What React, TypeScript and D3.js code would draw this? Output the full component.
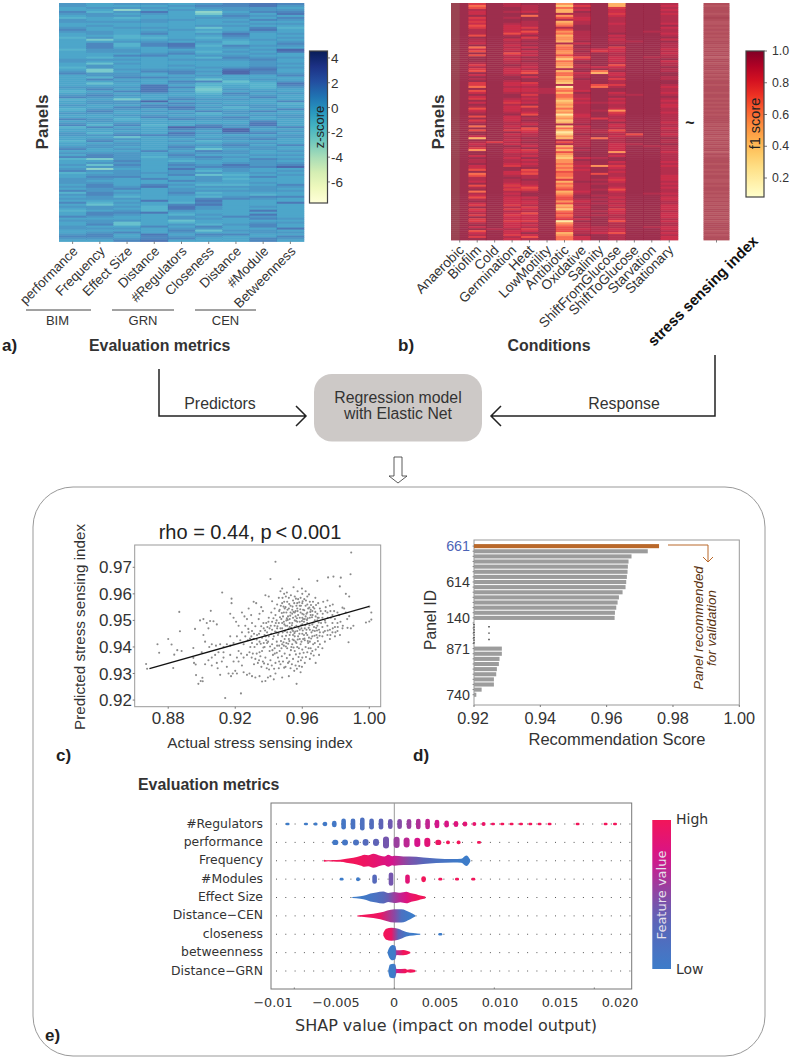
import React from "react";
import * as d3 from "d3";

// ---------- Panel a: z-score heatmap (one digit per row, 0 = palest, 9 = darkest) ----------
const metricLabels = ["performance", "Frequency", "Effect Size", "Distance", "#Regulators", "Closeness", "Distance", "#Module", "Betweenness"];
const zLevels = [-3.7, -2.8, -2.1, -1.5, -0.7, -0.1, 0.5, 1.15, 1.85, 2.6];
const metricRows = [
  "6655765466 5567655455 5554555566 5545675555 5565456745 5654565575 6745566554 5567565745 5656745566 6565746565 7565455756 5566556765",
  "5565466556 5655665625 7776655465 3662266475 3567567656 6556765566 5475546567 5665567725 6361656765 6776677665 4366577656 6756567765",
  "6561656456 5565554456 4456657565 6556566756 5565756526 6576556545 6756567365 6656566667 6765666755 5567565465 6565676556 3356575567",
  "6565865566 5565675456 7755567555 5556755755 5888865559 5775656755 5455557555 5555755455 5555565575 5785555558 5544485555 5575558778",
  "5656555565 5556555565 8875675565 5656775657 6575655675 7687565675 5597687656 5676567654 6768667557 5656676555 4788654663 4656765675",
  "6765125655 5635465456 5455456465 5565656537 4432345565 6565745665 5786565564 5653765765 5675463666 5465645478 7866556565 5476357655",
  "7766567656 5655687654 4765656765 5568995553 4556576565 5645665765 5669975665 6765665655 6876654545 5465655675 5555555755 5655657555",
  "8866756575 6578655565 5656565676 6678775565 4445656755 5665756557 8865675675 6566556576 6675565755 6566654765 5565858675 6775665577",
  "7656785765 6545565656 7659855655 6565567556 8765565557 4557556655 5575656655 5755656565 6795656555 5765655755 8555555565 6558565765",
];
const zTicks = [4, 2, 0, -2, -4, -6];
const metricGroups = ["BIM", "GRN", "CEN"];

// ---------- Panel b: f1 heatmap (one digit per row, 0 = palest, 9 = darkest) ----------
const conditionLabels = ["Anaerobic", "Biofilm", "Cold", "Germination", "Heat", "LowMotility", "Antibiotic", "Oxidative", "Salinity", "ShiftFromGlucose", "ShiftToGlucose", "Starvation", "Stationary"];
const f1Levels = [0.24, 0.38, 0.47, 0.56, 0.65, 0.74, 0.81, 0.87, 0.93, 0.985];
const conditionRows = [
  "9999999999 9999999999 9999999999 9999999999 9999999999 9999999999 9999999999 9999999999 9999999999 9999999999 9999999999 9999999999",
  "6458779676 7568885988 7947595999 8686597989 6649579769 7985789596 8949599729 8786399798 8977594588 7958948758 9769678696 6897957869",
  "9999999999 9999999999 9999999999 9999999999 9999999999 9999999999 9999999999 6999999999 9999999999 9999999999 9999999999 9999899999",
  "8899899899 8777758978 8787857878 8987778998 7787789987 6877789777 8878697887 8798778878 8769977898 8767687877 7768687677 6777877687",
  "9888794998 8868579689 8979787989 8878659799 6787786878 7958875989 8795678898 9879678797 8789565889 8875689978 7786785777 6878679758",
  "9999999999 9999999999 9999999999 9999999999 9998889999 9999999999 9999999999 9999999999 9999999999 9999999999 9999999999 9999999999",
  "3142283582 3485342332 8344335314 3328244232 1803424431 2324230231 2814201328 5824253213 3434354436 2434523455 3523145456 0345552344",
  "8687988778 8999888889 7998988579 9889978898 8888798878 7888887788 8978889888 8889899979 8878788888 9888878998 7887888897 9888788977",
  "9999999999 9999999999 9997699999 9979429999 9549999999 8999899969 9999889949 9999999989 9939995998 9899899898 9899989899 9998887999",
  "2267767888 7888897878 8967788777 8578977868 8689978978 7887367887 9778578788 8777738799 7867878876 7887578878 7878677887 5888775888",
  "9999999999 9999999998 9999999999 9999999999 9999998999 9999999999 9999995899 9899999999 9999999999 9999999999 9999999999 9999999999",
  "9999999999 9999899999 9999999899 9999999999 9999999999 9999999999 9999999999 9989999999 9999999999 9999998999 9999999999 9998999999",
  "8787878888 7978878979 8887878897 8898899889 9878878987 8778878888 7887887898 8988878888 7878888777 8787887877 8877787778 7887787877",
];
const stressRows = "5655565456 6565656565 5656565755 6555656565 5655565565 6565656555 5656565665 6565575655 5655656556 6565565656 5656556565 6555565655";
const f1Ticks = [1.0, 0.8, 0.6, 0.4, 0.2];

// ---------- Panel c: scatter, [actual, predicted] in ten-thousandths ----------
const regressionLine = [[0.8688, 0.9318], [1.0, 0.9553]];
const scatterXTicks = [0.88, 0.92, 0.96, 1.0];
const scatterYTicks = [0.97, 0.96, 0.95, 0.94, 0.93, 0.92];
const scatterPoints = [
  [9892,9756],[9440,9721],[9888,9674],[9410,9656],[9580,9655],[9690,9649],[9754,9662],[9786,9665],[9830,9661],[9824,9628],[9860,9600],[9880,9590],[9122,9605],[9178,9582],[9178,9565],[8866,9532],[9054,9536],
  [8800,9430],[8736,9410],[8746,9378],[8668,9336],[8674,9318],[8830,9321],[8836,9371],[8854,9388],[8880,9385],[8870,9459],[8820,9409],[8950,9396],[8950,9359],[8954,9340],[8964,9334],[8966,9294],[8980,9261],[9004,9284],[9006,9271],[8994,9272],[9140,9208],[9234,9225],[9566,9261],[9520,9290],[9430,9278],
  [10000,9496],[10012,9530],[10012,9503],[9980,9492],[10000,9552],[9876,9418],[9890,9470],[9870,9472],[9905,9480],[9880,9516],[9868,9505],[9860,9530],[9850,9545],[9840,9548],[9820,9520],[9810,9490],
  [8960,9468],[8990,9500],[9010,9505],[9030,9490],[9050,9498],[9070,9497],[9090,9485],[9040,9470],[9010,9445],[9020,9420],[9045,9400],[9060,9410],[9085,9405],[9110,9410],[9130,9400],[9150,9410],[9170,9405],[9100,9380],[9080,9370],[9060,9360],[9040,9350],[9020,9335],[9000,9380],[9060,9330],[9095,9320],[9120,9345],[9130,9360],[9150,9325],[9160,9300],[9175,9290],[9185,9300],[9200,9310],[9210,9300],[9110,9295],[9090,9340],[9130,9380],[9170,9370],[9190,9345],[9210,9360],[9220,9385],[9240,9330],[9250,9305],[9270,9295],[9285,9300],[9300,9290],[9320,9285],[9345,9290],[9360,9270],[9380,9272],[9395,9285],[9410,9290],[9440,9300],[9460,9320],[9480,9285],
  [9170,9525],[9190,9510],[9205,9495],[9220,9480],[9240,9530],[9255,9515],[9270,9505],[9280,9545],[9260,9480],[9295,9520],[9300,9490],[9310,9570],[9325,9565],[9345,9525],[9355,9550],[9365,9535],[9380,9595],[9400,9590],[9420,9572],[9415,9530],[9340,9505],[9320,9478],[9300,9460],[9280,9455],[9260,9440],[9240,9455],[9210,9440],[9190,9415],[9170,9440],[9230,9425],[9250,9410],[9275,9425],[9290,9400],[9310,9430],[9330,9445],[9350,9460],[9370,9470],[9385,9490],[9400,9510],[9420,9495],[9440,9520],[9435,9545],[9450,9560],[9460,9585],[9470,9610],[9480,9620],[9465,9540],[9480,9565],[9490,9530],[9500,9550],[9510,9570],[9520,9585],[9530,9555],[9545,9575],[9555,9590],[9565,9555],[9575,9580],[9590,9585],[9600,9600],[9612,9580],[9630,9590],[9645,9570],[9620,9555],[9605,9540],[9590,9530],[9575,9520],[9560,9535],[9545,9510],[9530,9530],[9515,9515],[9505,9500],[9490,9495],[9475,9505],[9460,9490],[9450,9470],[9435,9480],[9420,9465],[9405,9470],[9390,9455],[9375,9445],[9360,9435],[9345,9420],[9330,9410],[9315,9400],[9300,9415],[9285,9380],[9270,9370],[9250,9360],[9235,9375],[9220,9345],[9305,9375],[9320,9355],[9335,9340],[9350,9365],[9365,9345],[9380,9360],[9395,9335],[9410,9350],[9425,9370],[9440,9340],[9455,9360],[9470,9335],[9485,9345],[9500,9325],[9515,9340],[9530,9320],[9545,9355],[9560,9330],[9575,9345],[9590,9305],[9600,9360],[9615,9340],[9630,9380],[9645,9355],[9660,9385],[9680,9340],[9700,9370],[9720,9395],[9600,9390],[9585,9375],[9570,9400],[9555,9385],[9540,9410],[9525,9370],[9510,9395],[9495,9375],[9480,9410],[9465,9385],[9450,9405],[9435,9395],[9420,9410],[9405,9385],[9390,9415],[9375,9400],[9360,9385],[9345,9380],
  [9480,9440],[9495,9430],[9510,9455],[9525,9445],[9540,9465],[9555,9440],[9570,9460],[9585,9430],[9600,9450],[9615,9425],[9630,9445],[9645,9420],[9660,9440],[9675,9415],[9690,9435],[9705,9410],[9720,9440],[9735,9420],[9750,9445],[9765,9430],[9780,9455],[9795,9440],[9810,9460],[9825,9445],[9840,9470],[9480,9470],[9495,9460],[9510,9480],[9525,9475],[9540,9490],[9555,9475],[9570,9495],[9585,9465],[9600,9485],[9615,9470],[9630,9490],[9645,9465],[9660,9485],[9675,9460],[9690,9480],[9705,9455],[9720,9475],[9735,9460],[9750,9480],[9765,9465],[9780,9490],[9795,9475],[9485,9515],[9500,9480],[9525,9505],[9540,9525],[9555,9500],[9570,9545],[9585,9510],[9600,9525],[9615,9505],[9630,9530],[9645,9510],[9660,9535],[9675,9500],[9690,9525],[9705,9545],[9720,9510],[9735,9500],[9750,9530],[9765,9555],[9780,9520],[9795,9505],[9810,9530],[9530,9455],[9545,9445],[9560,9420],[9575,9440],[9590,9410],[9605,9430],[9620,9400],[9635,9415],[9650,9395],[9665,9410],[9680,9390],[9695,9400],[9490,9405],[9505,9415],[9520,9430],[9535,9400],[9550,9425],[9565,9415],[9580,9395],[9595,9420],[9610,9445],[9625,9465],[9640,9435],[9655,9455],[9670,9475],[9685,9445],[9700,9465],[9620,9515],[9635,9545],[9650,9520],[9665,9550],[9680,9515],[9695,9565],[9710,9535],[9725,9570],[9740,9550],[9750,9575],[9770,9510],[9790,9535],[9690,9500],[9600,9510],[9610,9495],[9585,9495],[9560,9515],[9540,9540],[9520,9545],[9505,9530],[9495,9545],[9470,9470],[9455,9445],[9445,9455],[9430,9440],[9415,9450],[9400,9440],[9385,9425],[9370,9415],[9630,9560],[9650,9540],[9600,9565],[9585,9555],[9570,9565],[9555,9530],[9480,9490],[9525,9490],[9545,9460],[9565,9480],[9595,9470],[9605,9505],[9625,9525],
  [9452,9478],[9467,9512],[9478,9528],[9488,9552],[9498,9462],[9508,9508],[9518,9468],[9528,9518],[9538,9482],[9548,9532],[9558,9458],[9568,9508],[9578,9472],[9588,9542],[9598,9498],[9608,9522],[9618,9482],[9628,9502],[9638,9472],[9648,9532],[9658,9512],[9668,9492],[9678,9532],[9688,9462],[9698,9492],[9458,9452],[9473,9422],[9483,9455],[9493,9485],[9503,9442],[9513,9502],[9523,9422],[9533,9472],[9543,9428],[9553,9452],[9563,9498],[9573,9428],[9583,9450],[9593,9482],[9603,9462],[9613,9432],[9623,9452],[9633,9422],[9643,9482],[9653,9432],[9663,9462],[9673,9442],[9683,9472],[9693,9422],[9703,9442],
  [9447,9500],[9462,9535],[9472,9555],[9482,9585],[9492,9570],[9502,9590],[9512,9540],[9522,9562],[9532,9595],[9542,9552],[9552,9565],[9562,9582],[9572,9535],[9582,9568],[9592,9555],[9602,9572],[9612,9538],[9622,9575],[9632,9508],[9642,9548],[9652,9558],[9662,9520],[9672,9545],[9682,9558],[9692,9510],
  [9428,9508],[9442,9490],[9438,9458],[9425,9430],[9412,9480],[9398,9495],[9392,9475],[9378,9462],[9368,9490],[9355,9478],[9342,9450],[9328,9428],[9312,9450],[9296,9440],[9352,9412],[9368,9398],[9382,9440],[9396,9420],[9408,9402],[9422,9388],[9436,9375],[9448,9420],[9462,9405],[9476,9395],[9488,9418],[9502,9402],[9516,9412],[9532,9388],[9548,9398],[9562,9372],[9578,9362],[9592,9350],[9608,9378],[9622,9362],[9638,9395],[9652,9375],[9668,9368],
  [9278,9468],[9288,9432],[9298,9360],[9312,9335],[9328,9375],[9342,9350],[9356,9325],[9372,9338],[9388,9320],[9402,9315],[9418,9330],[9432,9318],[9448,9378],[9462,9345],[9478,9365],[9492,9322],[9508,9358],[9522,9345],[9538,9335],[9552,9310],[9568,9318],[9582,9328],[9598,9325],[9738,9492],[9752,9462],[9768,9445],[9782,9470],[9798,9455],[9812,9475],[9828,9495],[9842,9480],[9722,9525],[9738,9535],[9752,9510],[9768,9535],[9782,9560],[9712,9490],[9726,9455],[9698,9510],[9664,9570],[9678,9585],[9640,9598],[9620,9610],[9598,9620],[9572,9610],[9548,9625],[9508,9605],[9492,9600],
];

// ---------- Panel d: recommendation scores, top to bottom ----------
const topScores = [0.9758, 0.9724, 0.9675, 0.9666, 0.9664, 0.9663, 0.9661, 0.9659, 0.9657, 0.9648, 0.9637, 0.9633, 0.9629, 0.9625, 0.9624];
const hiddenRowCount = 5;
const bottomScores = [0.9284, 0.9284, 0.9277, 0.9275, 0.9269, 0.9267, 0.926, 0.926, 0.9223, 0.9207];
const panelLabels: [number, string][] = [[0, "661"], [7, "614"], [14, "140"], [20, "871"], [29, "740"]];
const scoreTicks = [0.92, 0.94, 0.96, 0.98, 1.0];

// ---------- Panel e: SHAP summary ----------
const shapFeatures = ["#Regulators", "performance", "Frequency", "#Modules", "Effect Size", "Distance\u2212CEN", "closeness", "betweenness", "Distance\u2212GRN"];
const shapTickValues = [-0.01, 0, 0.01, 0.02];
const shapTickLabels = ["\u22120.01", "\u22120.005", "0", "0.005", "0.010", "0.015", "0.020"];
// [shap value, half height in sample stack, low-to-high colour]
const regulatorsDots = [[-0.01067,1,0],[-0.00883,1,0.02],[-0.00787,1.6,0.02],[-0.00693,2.3,0.04],[-0.006,3.3,0.06],[-0.00507,5.6,0.08],[-0.00413,5.6,0.12],[-0.0032,6.6,0.16],[-0.00227,5.6,0.22],[-0.00133,5.6,0.33],[-0.0004,5,0.4],[0.00053,5,0.48],[0.00147,5,0.55],[0.0024,5.3,0.62],[0.00333,5.3,0.68],[0.00427,4.3,0.74],[0.00523,3.6,0.78],[0.00617,3,0.82],[0.00707,2.6,0.86],[0.008,2,0.9],[0.00893,2,0.93],[0.00987,1,0.96],[0.0108,1.3,1],[0.01173,1,1],[0.01267,1,1],[0.0136,1.3,1],[0.01453,1,1],[0.01553,1,1],[0.01833,1,1],[0.02113,1,1],[0.02207,1,1]];
const performanceDots = [[-0.0059,2.6,0.05],[-0.00493,3,0.08],[-0.00383,3,0.14],[-0.00287,3.3,0.24],[-0.00183,3.6,0.34],[-0.00083,6,0.42],[0.00023,5.6,0.55],[0.00123,5,0.66],[0.0023,4.6,0.75],[0.0033,4.6,0.85],[0.0044,2.6,0.95],[0.00537,1.8,1],[0.00643,1.8,1],[0.00847,1,1]];
const modulesDots = [[-0.00527,1,0],[-0.00363,2,0.02],[-0.00197,4.6,0.25],[-0.00033,6.6,0.42],[0.00132,4.6,0.85],[0.00293,3,1],[0.0046,1.3,1],[0.00627,1.2,1],[0.0079,1,1]];
const closenessOutlier = [[0.0046,1,0]];
const frequencyProfile = [[-0.00703,1,1],[-0.0066,0.4,1],[-0.0061,0.8,1],[-0.0054,1.1,1],[-0.0048,1.9,1],[-0.0041,2.9,1],[-0.0034,4.7,0.98],[-0.003,6,0.96],[-0.0026,5.5,0.94],[-0.0021,6.9,0.9],[-0.0014,5,0.85],[-0.001,4.2,0.82],[-0.0006,6,0.78],[-0.0002,4.6,0.74],[0,5,0.7],[0.0009,4.3,0.55],[0.0015,4.3,0.45],[0.0029,3.3,0.3],[0.0042,2.3,0.15],[0.0059,1.7,0.05],[0.0067,2,0],[0.0072,5.3,0],[0.0076,1,0]];
const effectProfile = [[-0.0042,0.5,0],[-0.0034,1.3,0.02],[-0.0028,2.6,0.05],[-0.0024,4,0.08],[-0.0018,5,0.15],[-0.0011,6,0.25],[-0.0006,4.6,0.38],[0,5.6,0.55],[0.0006,4.8,0.68],[0.0012,5.8,0.8],[0.0017,4.2,0.9],[0.0022,3.3,0.97],[0.0026,2,1],[0.0031,1,1]];
const distanceCenProfile = [[-0.0037,0.5,1],[-0.0028,1.3,1],[-0.0014,3.3,0.95],[0,6.6,0.5],[0.0007,6.6,0.15],[0.0016,3.3,0],[0.0021,0.7,0]];
const closenessProfile = [[-0.0011,1.3,1],[-0.0008,5.6,1],[-0.0003,6.6,0.95],[0.0004,5.6,0.35],[0.0012,2.3,0.05],[0.0019,1.3,0],[0.0026,0.6,0]];
const betweennessProfile = [[-0.00067,0.7,0],[-0.0005,5,0],[-0.00017,7.6,0],[0.0001,6.6,0.03],[0.00023,2.3,0.6],[0.0009,2.6,1],[0.0016,0.6,1]];
const distanceGrnProfile = [[-0.0006,1,0],[-0.00043,6.6,0],[-0.0001,7.3,0],[0.0001,6.6,0.03],[0.00023,2,0.7],[0.0011,2.3,1],[0.0013,1.3,1],[0.0016,1.7,1],[0.0021,1,1]];
const shapDots = [regulatorsDots, performanceDots, null, modulesDots, null, null, closenessOutlier, null, null];
const shapProfiles = [null, null, frequencyProfile, null, effectProfile, distanceCenProfile, closenessProfile, betweennessProfile, distanceGrnProfile];

// ---------- Layout ----------
const SANS = "'Liberation Sans', Helvetica, Arial, sans-serif";
const DEJAVU = "'DejaVu Sans', sans-serif";
const INK = "#333";
const shapLabelX = [273, 336, 394, 440, 500, 560, 620];

const zScale = d3.scaleLinear().domain([-7.7, 4.56]).range([203, 51]);
const zColor = (z: number) => d3.interpolateYlGnBu((z + 7.7) / 12.26);
const f1Scale = d3.scaleLinear().domain([0.2, 1.0]).range([178, 51]);
const f1Color = (f: number) => d3.interpolateYlOrRd(Math.min(1, Math.max(0, (f - 0.07) / 0.93)));
const stressColor = d3.scaleLinear<string>().domain([4, 7]).range(["#aa4554", "#bf606a"]);
const shapColor = d3.scaleLinear<string>().domain([0, 0.35, 0.55, 0.75, 1]).range(["#3d7cc9", "#5f62b6", "#9a3f9e", "#d6148a", "#f2155a"]);
const parseRows = (s: string) => s.replace(/ /g, "").split("").map(Number);

function Stripes({ text, x, width, top, bottom, color, opacity }: any) {
  const rows = parseRows(text);
  const y = d3.scaleLinear().domain([0, rows.length]).range([top, bottom]);
  return (
    <g opacity={opacity}>
      {rows.map((d: number, i: number) => (
        <rect key={i} x={x} y={y(i)} width={width} height={y(i + 1) - y(i) + 0.4} fill={color(d)} />
      ))}
    </g>
  );
}

function Rotated({ x, y, children, size = 13.4, weight, fill = INK, anchor = "end", angle = -45, family = SANS, style }: any) {
  return (
    <text transform={`translate(${x},${y}) rotate(${angle})`} fontSize={size} fontWeight={weight} fill={fill} textAnchor={anchor} fontFamily={family} fontStyle={style}>
      {children}
    </text>
  );
}

function T({ x, y, children, size = 14, weight, fill = INK, anchor = "start", family = SANS }: any) {
  return <text x={x} y={y} fontSize={size} fontWeight={weight} fill={fill} textAnchor={anchor} fontFamily={family}>{children}</text>;
}

function HeatmapA() {
  const x = d3.scaleBand<number>().domain(d3.range(metricRows.length)).range([59, 304]);
  const stops = d3.range(0, 1.001, 0.1);
  return (
    <g>
      <g filter="url(#vblur)">
        {metricRows.map((r, i) => (
          <Stripes key={i} text={r} x={x(i)} width={x.bandwidth() + 0.3} top={3} bottom={241.5} opacity={0.8} color={(d: number) => zColor(zLevels[d])} />
        ))}
      </g>
      {metricLabels.map((l, i) => {
        const cx = x(i)! + x.bandwidth() / 2;
        return (
          <g key={i}>
            <line x1={cx} x2={cx} y1={241.5} y2={244} stroke="#666" strokeWidth={0.8} />
            <Rotated x={cx + 6} y={252}>{l}</Rotated>
          </g>
        );
      })}
      <defs>
        <linearGradient id="zGrad" x1="0" y1="1" x2="0" y2="0">
          {stops.map((s) => <stop key={s} offset={s} stopColor={d3.interpolateYlGnBu(s)} />)}
        </linearGradient>
      </defs>
      <rect x={309.5} y={51} width={18} height={152} fill="url(#zGrad)" stroke="#444" strokeWidth={1.2} />
      {zTicks.map((t) => (
        <g key={t}>
          <line x1={327.5} x2={330} y1={zScale(t)} y2={zScale(t)} stroke="#555" strokeWidth={0.8} />
          <T x={331} y={zScale(t) + 5} size={13.5} anchor="start">{t < 0 ? "-" + -t : t}</T>
        </g>
      ))}
      <Rotated x={324} y={127} angle={-90} anchor="middle" size={13} fill="#222">z-score</Rotated>
      <Rotated x={48} y={122} angle={-90} anchor="middle" size={17} weight="bold">Panels</Rotated>
      {[[26, 91], [112, 174], [195, 256]].map(([a, b], i) => (
        <g key={i}>
          <line x1={a} x2={b} y1={310} y2={310} stroke="#444" strokeWidth={1} />
          <T x={(a + b) / 2 + (i === 0 ? -1 : 0)} y={325} size={13} anchor="middle">{metricGroups[i]}</T>
        </g>
      ))}
      <T x={2} y={351} size={17} weight="bold" fill="#222">a)</T>
      <T x={89} y={351} size={15.9} weight="bold">Evaluation metrics</T>
    </g>
  );
}

function HeatmapB() {
  const x = d3.scaleBand<number>().domain(d3.range(conditionRows.length)).range([451, 678]);
  const stops = d3.range(0, 1.001, 0.1);
  return (
    <g>
      <g filter="url(#vblur)">
        {conditionRows.map((r, i) => (
          <Stripes key={i} text={r} x={x(i)} width={x.bandwidth() + 0.3} top={3} bottom={240} opacity={0.82} color={(d: number) => f1Color(f1Levels[d])} />
        ))}
        <rect x={451} y={3} width={x.bandwidth() / 2} height={237} fill="#8f7a60" opacity={0.25} />
        <Stripes text={stressRows} x={703.5} width={26} top={3} bottom={240} color={stressColor} />
      </g>
      {conditionLabels.map((l, i) => {
        const cx = x(i)! + x.bandwidth() / 2;
        return (
          <g key={i}>
            <line x1={cx} x2={cx} y1={240} y2={242.5} stroke="#666" strokeWidth={0.8} />
            <Rotated x={cx + 5} y={251} size={13.7}>{l}</Rotated>
          </g>
        );
      })}
      <line x1={716.5} x2={716.5} y1={240} y2={242.5} stroke="#666" strokeWidth={0.8} />
      <Rotated x={759} y={242} size={15} weight="bold" fill="#111">stress sensing index</Rotated>
      <T x={690} y={128} size={16} anchor="middle" fill="#222" weight="bold">~</T>
      <defs>
        <linearGradient id="f1Grad" x1="0" y1="1" x2="0" y2="0">
          {stops.map((s) => <stop key={s} offset={s} stopColor={d3.interpolateYlOrRd(s)} />)}
        </linearGradient>
      </defs>
      <rect x={746} y={51} width={18} height={146} fill="url(#f1Grad)" stroke="#444" strokeWidth={1.2} />
      {f1Ticks.map((t) => (
        <g key={t}>
          <line x1={764} x2={767} y1={f1Scale(t)} y2={f1Scale(t)} stroke="#555" strokeWidth={0.8} />
          <T x={772} y={f1Scale(t) + 4} size={12.3} anchor="start">{t.toFixed(1)}</T>
        </g>
      ))}
      <Rotated x={760} y={123.5} angle={-90} anchor="middle" size={14.5} fill="#222">f1 score</Rotated>
      <Rotated x={444} y={122} angle={-90} anchor="middle" size={17} weight="bold">Panels</Rotated>
      <T x={398} y={351} size={17} weight="bold" fill="#222">b)</T>
      <T x={549} y={351} size={15.9} weight="bold" anchor="middle">Conditions</T>
    </g>
  );
}

function Flow() {
  return (
    <g>
      <path d="M159,369 V416 H305 M296,406 L306,416 L296,426" fill="none" stroke="#222" strokeWidth={1.5} />
      <path d="M715,355 V416 H492 M501,406 L491,416 L501,426" fill="none" stroke="#222" strokeWidth={1.5} />
      <rect x={314} y={374} width={168} height={67.5} rx={18} fill="#cdc9c7" />
      <T x={220} y={409} size={15.9} anchor="middle">Predictors</T>
      <T x={624} y={409} size={15.9} anchor="middle">Response</T>
      <T x={398} y={403} size={15.8} anchor="middle">Regression model</T>
      <T x={398} y={419} size={15.8} anchor="middle">with Elastic Net</T>
      <path d="M394,457 H402 V476 H407 L398,483 L389,476 H394 Z" fill="#fff" stroke="#333" strokeWidth={0.8} />
      <rect x={33} y={487} width={732} height={569} rx={40} fill="none" stroke="#999" strokeWidth={1} />
    </g>
  );
}

function Scatter() {
  const x = d3.scaleLinear().domain([0.86, 1.0068]).range([134.7, 380.7]);
  const y = d3.scaleLinear().domain([0.9175, 0.9784]).range([706.7, 545]);
  const line = d3.line<number[]>().x((d) => x(d[0])).y((d) => y(d[1]));
  return (
    <g>
      <rect x={134.7} y={545} width={246} height={161.7} fill="#fff" stroke="#999" strokeWidth={1} />
      {scatterPoints.map(([a, b], i) => (
        <circle key={i} cx={x(a / 10000)} cy={y(b / 10000)} r={1.05} fill="#8a8a8a" />
      ))}
      <path d={line(regressionLine) || ""} stroke="#111" strokeWidth={1.3} fill="none" />
      {scatterXTicks.map((t) => (
        <g key={t}>
          <line x1={x(t)} x2={x(t)} y1={706.7} y2={708.7} stroke="#777" />
          <T x={x(t)} y={724} size={17} anchor="middle">{t.toFixed(2)}</T>
        </g>
      ))}
      {scatterYTicks.map((t) => (
        <g key={t}>
          <line x1={132.7} x2={134.7} y1={y(t)} y2={y(t)} stroke="#777" />
          <T x={132} y={y(t) + 6} size={17} anchor="end">{t.toFixed(2)}</T>
        </g>
      ))}
      <T x={250} y={539} size={20} anchor="middle" fill="#222">rho = 0.44, p{"\u2009"}&lt;{"\u2009"}0.001</T>
      <T x={260} y={748} size={15.3} anchor="middle">Actual stress sensing index</T>
      <Rotated x={85} y={627} angle={-90} anchor="middle" size={15.2}>Predicted stress sensing index</Rotated>
      <T x={56} y={761} size={17} weight="bold" fill="#222">c)</T>
    </g>
  );
}

function Bars() {
  const x = d3.scaleLinear().domain([0.92, 1.0]).range([474, 739.3]);
  const nRows = topScores.length + hiddenRowCount + bottomScores.length;
  const y = d3.scaleBand<number>().domain(d3.range(nRows)).range([544.1, 544.1 + 5.09 * nRows]).paddingInner(0.2);
  const rows = [...topScores.map((v, i) => ({ v, r: i })), ...bottomScores.map((v, i) => ({ v, r: i + topScores.length + hiddenRowCount }))];
  return (
    <g>
      <rect x={474} y={540} width={265.3} height={165} fill="#fff" stroke="#999" strokeWidth={1} />
      {rows.map(({ v, r }) => (
        <rect key={r} x={474} y={y(r)} width={x(v) - 474} height={y.bandwidth()} fill={r === 0 ? "#b9682a" : "#9c9c9c"} />
      ))}
      {d3.range(nRows).map((r) => (
        <line key={r} x1={472.5} x2={474} y1={y(r)! + 2} y2={y(r)! + 2} stroke="#555" strokeWidth={0.6} />
      ))}
      <line x1={474} x2={474} y1={624} y2={644} stroke="#444" strokeWidth={1.5} strokeDasharray="1.2 1.4" />
      <line x1={489} x2={489} y1={626} y2={641} stroke="#444" strokeWidth={1.5} strokeDasharray="1.4 5" />
      {panelLabels.map(([r, l]) => (
        <T key={l} x={470} y={y(r)! + 7} size={14.3} anchor="end" fill={r === 0 ? "#4c63b6" : INK}>{l}</T>
      ))}
      {scoreTicks.map((t) => (
        <g key={t}>
          <line x1={x(t)} x2={x(t)} y1={705} y2={707} stroke="#777" />
          <T x={x(t) + (t === 0.92 ? -1 : 0)} y={724} size={16.3} anchor="middle">{t.toFixed(2)}</T>
        </g>
      ))}
      <path d="M668,545 H708 V562 M703,557 L708,562 L713,557" fill="none" stroke="#b9682a" strokeWidth={1} />
      <Rotated x={703} y={628} angle={-90} anchor="middle" size={13.4} style="italic" fill="#5a3310">Panel recommended</Rotated>
      <Rotated x={716} y={628} angle={-90} anchor="middle" size={13.4} style="italic" fill="#5a3310">for validation</Rotated>
      <T x={617} y={745} size={16.5} anchor="middle">Recommendation Score</T>
      <Rotated x={436} y={620} angle={-90} anchor="middle" size={15.6}>Panel ID</Rotated>
      <T x={413} y={761} size={17} weight="bold" fill="#222">d)</T>
    </g>
  );
}

function Shap() {
  const x = d3.scaleLinear().domain([-0.01, 0.02]).range([294.3, 594.3]);
  const y = d3.scalePoint<string>().domain(shapFeatures).range([824, 971]);
  const left = 271, right = 631.7, top = 803, bottom = 989;
  const area = d3.area<number[]>().x((d) => x(d[0])).curve(d3.curveMonotoneX);
  const gradStops = d3.range(0, 1.001, 0.1);
  return (
    <g>
      <T x={138} y={790} size={15.9} weight="bold">Evaluation metrics</T>
      <rect x={left} y={top} width={right - left} height={bottom - top} fill="#fff" stroke="#777" strokeWidth={1} />
      {shapFeatures.map((f) => (
        <g key={f}>
          <line x1={left + 5} x2={right - 1} y1={y(f)} y2={y(f)} stroke="#555" strokeWidth={1} strokeDasharray="1 8.3" />
          <T x={263} y={y(f)! + 3.5} size={12.4} anchor="end" family={DEJAVU}>{f}</T>
        </g>
      ))}
      <line x1={x(0)} x2={x(0)} y1={top} y2={bottom} stroke="#999" strokeWidth={1} />
      <defs>
        {shapProfiles.map((p, i) => p && (
          <linearGradient key={i} id={`prof${i}`} x1="0" x2="1" y1="0" y2="0">
            {p.map((d, k) => (
              <stop key={k} offset={(d[0] - p[0][0]) / (p[p.length - 1][0] - p[0][0])} stopColor={shapColor(d[2])} />
            ))}
          </linearGradient>
        ))}
        <linearGradient id="shapBar" x1="0" x2="0" y1="1" y2="0">
          {gradStops.map((s) => <stop key={s} offset={s} stopColor={shapColor(s)} />)}
        </linearGradient>
      </defs>
      {shapFeatures.map((f, i) => {
        const cy = y(f)!;
        const prof = shapProfiles[i];
        const dots = shapDots[i];
        return (
          <g key={f}>
            {prof && <path d={area.y0((d) => cy - d[1]).y1((d) => cy + d[1])(prof) || ""} fill={`url(#prof${i})`} />}
            {dots && dots.map((d, k) => {
              const hw = i === 1 && d[1] > 2 ? 3 : d[1] > 2 ? 2.3 : 2;
              const hh = Math.max(d[1], 1.3);
              return <rect key={k} x={x(d[0]) - hw} y={cy - hh} width={2 * hw} height={2 * hh} rx={Math.min(hw, hh)} fill={shapColor(d[2])} />;
            })}
          </g>
        );
      })}
      {shapTickValues.map((t) => (
        <line key={t} x1={x(t)} x2={x(t)} y1={bottom - 1.5} y2={bottom} stroke="#777" />
      ))}
      {shapTickLabels.map((l, i) => (
        <T key={l} x={shapLabelX[i]} y={1007} size={12.8} anchor="middle" family={DEJAVU}>{l}</T>
      ))}
      <T x={446} y={1031} size={16} anchor="middle" family={DEJAVU}>SHAP value (impact on model output)</T>
      <rect x={652.3} y={820} width={18.7} height={149} fill="url(#shapBar)" />
      <T x={676} y={824} size={14} family={DEJAVU}>High</T>
      <T x={676} y={974} size={14} family={DEJAVU}>Low</T>
      <Rotated x={666} y={895} angle={-90} anchor="middle" size={13} family={DEJAVU} fill="#e6e0ec">Feature value</Rotated>
      <T x={45} y={1041} size={17} weight="bold" fill="#222">e)</T>
    </g>
  );
}

export default function App() {
  return (
    <svg width={790} height={1059} viewBox="0 0 790 1059" style={{ position: "absolute", left: 0, top: 0, display: "block", background: "#fff" }}>
      <defs>
        <filter id="vblur" x="-2%" y="-2%" width="104%" height="104%">
          <feGaussianBlur stdDeviation="0.25 0.45" />
        </filter>
      </defs>
      <HeatmapA />
      <HeatmapB />
      <Flow />
      <Scatter />
      <Bars />
      <Shap />
    </svg>
  );
}
